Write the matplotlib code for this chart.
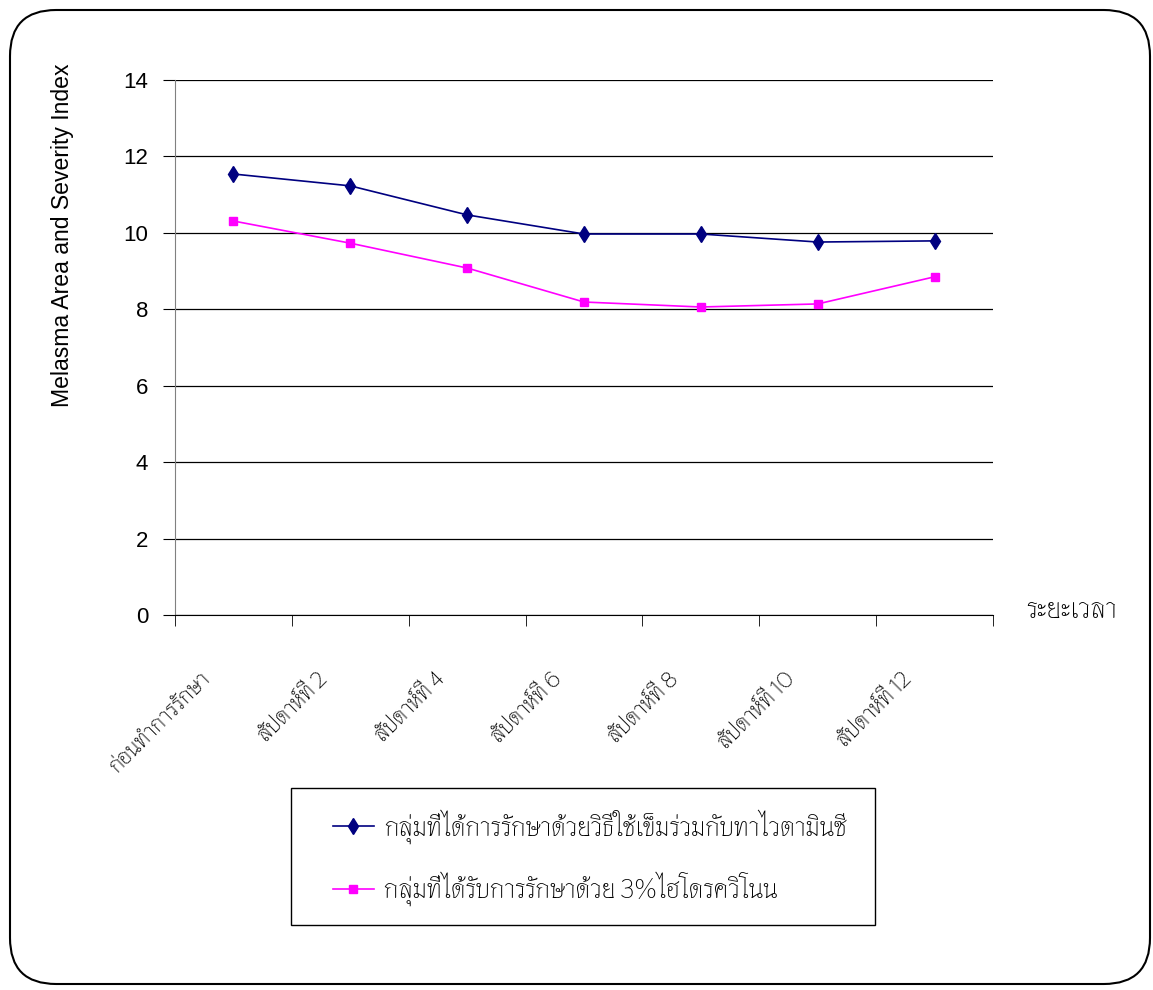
import matplotlib
matplotlib.use("Agg")
import matplotlib.pyplot as plt
from matplotlib import font_manager
from matplotlib.patches import FancyBboxPatch, Rectangle
from matplotlib.transforms import ScaledTranslation
import numpy as np

# data
periods = ["ก่อนทำการรักษา", "สัปดาห์ที่ 2", "สัปดาห์ที่ 4", "สัปดาห์ที่ 6",
           "สัปดาห์ที่ 8", "สัปดาห์ที่ 10", "สัปดาห์ที่ 12"]
needle_vitc = [11.54, 11.23, 10.47, 9.97, 9.97, 9.76, 9.79]
hydroquinone = [10.31, 9.73, 9.08, 8.19, 8.06, 8.14, 8.85]
series_names = ["กลุ่มที่ได้การรักษาด้วยวิธีใช้เข็มร่วมกับทาไวตามินซี",
                "กลุ่มที่ได้รับการรักษาด้วย 3%ไฮโดรควิโนน"]

# thin looped Thai face, with fallbacks
installed = {f.name for f in font_manager.fontManager.ttflist}
thai_font = next((n for n in ["Thasadith", "Sarabun", "Noto Sans Thai Looped",
                              "Noto Sans Thai"] if n in installed), "DejaVu Sans")
plt.rcParams['font.family'] = ['Liberation Sans', thai_font, 'DejaVu Sans']
thai = [thai_font, 'Liberation Sans', 'DejaVu Sans']

W, H = 1153, 990
fig = plt.figure(figsize=(W / 100, H / 100), dpi=100)
ax = fig.add_axes([175 / W, 1 - 615 / H, 818 / W, 535 / H])

x = np.arange(len(periods))
ax.plot(x, needle_vitc, color="#000080", marker="d", markersize=8, lw=1.2,
        label=series_names[0])
ax.plot(x, hydroquinone, color="#FF00FF", marker="s", markersize=6, lw=1.2,
        label=series_names[1])

ax.set_xlim(-0.5, len(periods) - 0.5)
ax.set_ylim(0, 14)
ax.set_yticks(np.arange(0, 15, 2))
ax.yaxis.grid(True, color="black", lw=0.9)
ax.set_axisbelow(True)

for s in ["top", "right"]:
    ax.spines[s].set_visible(False)
ax.spines["left"].set_color("#808080")
ax.spines["bottom"].set_color("black")

# category labels slanted, boundary ticks between categories
ax.set_xticks(x)
ax.set_xticklabels(periods, rotation=45, ha="right", va="top",
                   rotation_mode="anchor", fontsize=16.5, family=thai)
ax.tick_params(axis="x", length=0, pad=38)
shift = ScaledTranslation(-0.34, 0, fig.dpi_scale_trans)
for lab in ax.get_xticklabels():
    lab.set_transform(lab.get_transform() + shift)
ax.set_xticks(np.arange(len(periods) + 1) - 0.5, minor=True)
ax.tick_params(axis="x", which="minor", length=8, color="black")
ax.tick_params(axis="y", length=8.6, labelsize=16, color="black", pad=10.8)

ax.set_ylabel("Melasma Area and Severity Index", fontsize=16.6)
ax.yaxis.set_label_coords(-0.123, 0.71)
fig.text(1026 / W, 1 - 610 / H, "ระยะเวลา", fontsize=20,
         family=thai, va="center", ha="left")

# legend entries, with a plain frame drawn around them
leg = fig.legend(loc="upper left", bbox_to_anchor=(333 / W, 1 - 809 / H),
                 prop={"family": thai, "size": 19}, frameon=False,
                 handlelength=1.55, handletextpad=0.4, labelspacing=1.05,
                 borderpad=0, borderaxespad=0)
fig.patches.append(Rectangle((291 / W, 1 - 925 / H), 584 / W, 137 / H,
                             transform=fig.transFigure, fill=False,
                             ec="black", lw=1.0))

# rounded outer border
fig.patches.append(FancyBboxPatch((10 / W, 6 / H), 1140 / W, 974 / H,
                                  boxstyle="round,pad=0,rounding_size=0.04",
                                  transform=fig.transFigure, fill=False,
                                  ec="black", lw=1.5, mutation_aspect=W / H))

fig.savefig("out.png", dpi=100)
